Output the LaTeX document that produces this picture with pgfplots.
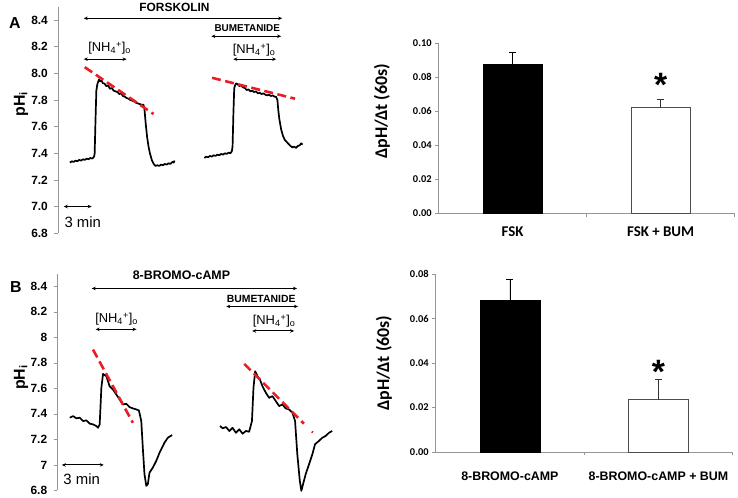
\documentclass[border=0pt]{standalone}
\usepackage{pgfplots}
\pgfplotsset{compat=1.18}
\usepackage{fontspec}
\setmainfont{Liberation Sans}
\newfontfamily\calfont{Carlito}
\usetikzlibrary{arrows.meta}
\definecolor{redline}{RGB}{232,30,36}
\definecolor{axgray}{RGB}{150,150,150}
\pgfplotsset{
  trace/.style={
    scale only axis, axis y line=left, axis x line=none,
    axis line style={axgray,-}, ytick style={axgray, line width=0.6bp},
    tick align=outside, major tick length=3.5bp,
    ymin=6.8, ymax=8.5, xmin=0, clip=false,
    /pgf/number format/assume math mode=true,
    yticklabel style={font=\fontsize{12}{12}\selectfont\bfseries, xshift=-3bp},
  },
  barax/.style={
    scale only axis, axis lines=left, axis line style={axgray,-, line width=0.7bp},
    tick style={axgray, line width=0.6bp}, tick align=outside, major tick length=3.5bp,
    ymin=0, xmin=-0.5, xmax=1.5, clip=false, scaled y ticks=false,
    xtick={0.5,1.5}, xticklabels={},
    /pgf/number format/assume math mode=true,
    yticklabel style={font=\calfont\fontsize{10.5}{10.5}\selectfont\bfseries, /pgf/number format/fixed, /pgf/number format/fixed zerofill, /pgf/number format/precision=2},
  },
  tr/.style={black, line width=1.7bp, line join=round},
  rd/.style={redline, line width=2.6bp, dash pattern=on 9bp off 4.5bp},
}
\tikzset{dar/.style={{Stealth[length=4bp,width=3.5bp]}-{Stealth[length=4bp,width=3.5bp]}, line width=0.9bp}}
\begin{document}
\begin{tikzpicture}
\path (0bp,0bp) rectangle (738bp,495bp);

% ---------------- Panel A trace ----------------
\begin{axis}[trace, at={(58bp,262.7bp)}, anchor=south west, width=272bp, height=227bp, xmax=29.14,
  ytick={6.8,7.0,7.2,7.4,7.6,7.8,8.0,8.2,8.4},
  yticklabel style={/pgf/number format/fixed, /pgf/number format/fixed zerofill, /pgf/number format/precision=1}]
\addplot[tr] coordinates {
(1.3,7.33)(1.5,7.34)(1.7,7.335)(1.9,7.345)(2.1,7.34)(2.3,7.35)(2.5,7.345)(2.7,7.355)(2.9,7.35)(3.1,7.36)(3.3,7.355)(3.5,7.365)(3.7,7.36)(3.9,7.375)
(3.96,7.40)(4.05,7.65)(4.14,7.87)(4.25,7.92)(4.43,7.955)(4.55,7.94)(4.7,7.945)(4.85,7.925)(5.0,7.925)(5.2,7.905)(5.4,7.91)(5.6,7.885)(5.8,7.89)(6.0,7.87)(6.2,7.865)(6.4,7.86)(6.6,7.845)(6.8,7.85)(7.0,7.83)(7.2,7.825)(7.4,7.815)(7.6,7.81)(7.8,7.80)(8.0,7.795)(8.2,7.79)(8.4,7.78)(8.6,7.775)(8.8,7.77)(9.0,7.765)(9.2,7.765)
(9.3,7.74)(9.45,7.62)(9.6,7.52)(9.75,7.45)(9.9,7.40)(10.1,7.35)(10.3,7.32)(10.5,7.305)(10.7,7.31)(10.9,7.305)(11.1,7.315)(11.3,7.31)(11.5,7.32)(11.7,7.315)(11.9,7.325)(12.1,7.32)(12.3,7.335)(12.45,7.33)(12.55,7.345)
};
\addplot[tr] coordinates {
(15.75,7.365)(15.95,7.375)(16.15,7.37)(16.35,7.38)(16.55,7.375)(16.75,7.385)(16.95,7.38)(17.15,7.39)(17.35,7.385)(17.55,7.395)(17.75,7.39)(17.95,7.40)(18.15,7.395)(18.35,7.405)(18.55,7.40)(18.7,7.415)
(18.78,7.45)(18.87,7.70)(18.96,7.89)(19.05,7.91)(19.15,7.925)(19.3,7.92)(19.5,7.905)(19.7,7.91)(19.9,7.895)(20.1,7.89)(20.3,7.875)(20.5,7.88)(20.7,7.865)(20.9,7.87)(21.1,7.86)(21.3,7.865)(21.5,7.85)(21.7,7.855)(21.9,7.845)(22.1,7.85)(22.3,7.84)(22.5,7.835)(22.7,7.84)(22.9,7.83)(23.1,7.835)(23.3,7.825)(23.45,7.825)
(23.6,7.80)(23.7,7.72)(23.8,7.66)(24.0,7.58)(24.2,7.53)(24.4,7.50)(24.6,7.485)(24.8,7.47)(25.0,7.455)(25.2,7.445)(25.4,7.45)(25.6,7.44)(25.8,7.455)(26.0,7.46)(26.15,7.475)(26.3,7.465)
};
\addplot[rd] coordinates {(2.89,8.047)(10.29,7.695)};
\addplot[rd] coordinates {(16.58,7.967)(25.5,7.81)};
% annotations
\draw[dar] (axis cs:2.79,8.414) -- (axis cs:24.11,8.414);
\node[font=\fontsize{12}{12}\selectfont\bfseries] at (axis cs:12.54,8.495) {FORSKOLIN};
\draw[dar] (axis cs:16.5,8.279) -- (axis cs:24.0,8.279);
\node[font=\fontsize{10}{10}\selectfont\bfseries] at (axis cs:20.36,8.339) {BUMETANIDE};
\draw[dar] (axis cs:2.79,8.107) -- (axis cs:7.39,8.107);
\node[font=\fontsize{13}{13}\selectfont] at (axis cs:5.57,8.19) {[NH\textsubscript{4}\textsuperscript{+}]\textsubscript{o}};
\draw[dar] (axis cs:18.86,8.107) -- (axis cs:23.47,8.107);
\node[font=\fontsize{13}{13}\selectfont] at (axis cs:21.1,8.175) {[NH\textsubscript{4}\textsuperscript{+}]\textsubscript{o}};
\draw[dar] (axis cs:0.64,7.0) -- (axis cs:3.64,7.0);
\node[font=\fontsize{15}{15}\selectfont] at (axis cs:2.68,6.88) {3 min};
\end{axis}

% ---------------- Panel B trace ----------------
\begin{axis}[trace, at={(57.3bp,4.6bp)}, anchor=south west, width=287.7bp, height=217.6bp, xmax=20.55,
  ytick={6.8,7,7.2,7.4,7.6,7.8,8,8.2,8.4},
  yticklabel style={/pgf/number format/fixed, /pgf/number format/precision=1}]
\addplot[tr] coordinates {
(0.91,7.370)(1.14,7.383)(1.38,7.365)(1.62,7.37)(1.86,7.344)(2.1,7.349)(2.34,7.323)(2.57,7.318)(2.81,7.305)(2.93,7.291)
(3.05,7.318)(3.17,7.604)(3.29,7.713)(3.53,7.695)(3.76,7.617)(4.0,7.591)(4.24,7.552)(4.48,7.513)(4.71,7.474)(4.96,7.479)(5.19,7.453)(5.43,7.443)(5.67,7.435)(5.86,7.427)
(6.03,7.344)(6.14,7.135)(6.26,6.927)(6.39,6.836)(6.5,6.849)(6.62,6.94)(6.86,6.979)(7.1,7.031)(7.34,7.096)(7.69,7.174)(7.93,7.213)(8.24,7.234)
};
\addplot[tr] coordinates {
(11.67,7.305)(11.86,7.287)(12.1,7.297)(12.34,7.266)(12.57,7.291)(12.81,7.252)(13.05,7.279)(13.29,7.245)(13.53,7.266)(13.76,7.26)
(13.96,7.344)(14.07,7.604)(14.19,7.734)(14.36,7.695)(14.53,7.67)(14.71,7.617)(14.96,7.565)(15.19,7.526)(15.43,7.539)(15.67,7.5)(15.91,7.461)(16.14,7.474)(16.38,7.443)(16.62,7.435)(16.86,7.409)
(17.05,7.344)(17.21,7.084)(17.39,6.875)(17.5,6.797)(17.62,6.849)(17.81,6.927)(18.05,7.005)(18.29,7.084)(18.48,7.162)(18.76,7.188)(19.0,7.213)(19.24,7.227)(19.48,7.252)(19.71,7.266)
};
\addplot[rd] coordinates {(2.57,7.904)(5.43,7.33)};
\addplot[rd] coordinates {(13.41,7.792)(17.69,7.323)};
\addplot[redline, line width=2bp] coordinates {(18.25,7.262)(18.33,7.254)};
\draw[dar] (axis cs:2.48,8.383) -- (axis cs:17.19,8.383);
\node[font=\fontsize{12.5}{12.5}\selectfont\bfseries] at (axis cs:8.91,8.49) {8-BROMO-cAMP};
\draw[dar] (axis cs:12.12,8.242) -- (axis cs:17.26,8.242);
\node[font=\fontsize{10.5}{10.5}\selectfont\bfseries] at (axis cs:14.62,8.297) {BUMETANIDE};
\draw[dar] (axis cs:2.76,8.0625) -- (axis cs:5.69,8.0625);
\node[font=\fontsize{13}{13}\selectfont] at (axis cs:4.26,8.141) {[NH\textsubscript{4}\textsuperscript{+}]\textsubscript{o}};
\draw[dar] (axis cs:13.98,8.05) -- (axis cs:16.98,8.05);
\node[font=\fontsize{13}{13}\selectfont] at (axis cs:15.55,8.125) {[NH\textsubscript{4}\textsuperscript{+}]\textsubscript{o}};
\draw[dar] (axis cs:0.34,7.0) -- (axis cs:3.34,7.0);
\node[font=\fontsize{15}{15}\selectfont] at (axis cs:1.76,6.89) {3 min};
\end{axis}

% ---------------- Panel A bars ----------------
\begin{axis}[barax, at={(440bp,282.3bp)}, anchor=south west, width=297bp, height=171bp, ymax=0.10,
  ytick={0,0.02,0.04,0.06,0.08,0.10},
  extra x ticks={0,1}, extra x tick labels={FSK, FSK + BUM},
  extra x tick style={major tick length=0pt, xticklabel style={font=\calfont\fontsize{15}{15}\selectfont\bfseries, yshift=-10bp}}]
\addplot[ybar, bar shift=0pt, bar width=59bp, fill=black, draw=black,
  error bars/.cd, y dir=plus, y explicit, error bar style={black, line width=0.7bp}, error mark options={black, line width=0.7bp, mark size=3.5bp, rotate=90}]
  coordinates {(0,0.0877) +- (0,0.0070)};
\addplot[ybar, bar shift=0pt, bar width=59bp, fill=white, draw=black!70, line width=0.7bp,
  error bars/.cd, y dir=plus, y explicit, error bar style={black!80, line width=0.7bp}, error mark options={black!80, line width=0.7bp, mark size=3.5bp, rotate=90}]
  coordinates {(1,0.0624) +- (0,0.0045)};
\node[font=\fontsize{34}{34}\selectfont\bfseries] at (axis cs:1,0.0755) {*};
\end{axis}

% ---------------- Panel B bars ----------------
\begin{axis}[barax, at={(437bp,43.3bp)}, anchor=south west, width=298bp, height=178.4bp, ymax=0.08,
  ytick={0,0.02,0.04,0.06,0.08},
  extra x ticks={0,1}, extra x tick labels={8-BROMO-cAMP, 8-BROMO-cAMP + BUM},
  extra x tick style={major tick length=0pt, xticklabel style={font=\fontsize{12.5}{12.5}\selectfont\bfseries, yshift=-17bp}}]
\addplot[ybar, bar shift=0pt, bar width=60bp, fill=black, draw=black,
  error bars/.cd, y dir=plus, y explicit, error bar style={black, line width=0.7bp}, error mark options={black, line width=0.7bp, mark size=3.5bp, rotate=90}]
  coordinates {(0,0.0683) +- (0,0.0091)};
\addplot[ybar, bar shift=0pt, bar width=60bp, fill=white, draw=black!70, line width=0.7bp,
  error bars/.cd, y dir=plus, y explicit, error bar style={black!80, line width=0.7bp}, error mark options={black!80, line width=0.7bp, mark size=3.5bp, rotate=90}]
  coordinates {(1,0.0235) +- (0,0.0090)};
\node[font=\fontsize{34}{34}\selectfont\bfseries] at (axis cs:1,0.0360) {*};
\end{axis}

% ---------------- labels ----------------
\node[font=\fontsize{16}{16}\selectfont\bfseries] at (15bp,473bp) {A};
\node[font=\fontsize{16}{16}\selectfont\bfseries] at (16bp,209bp) {B};
\node[rotate=90, font=\fontsize{16}{16}\selectfont\bfseries] at (21bp,392bp) {pH\textsubscript{i}};
\node[rotate=90, font=\fontsize{16}{16}\selectfont\bfseries] at (21bp,118bp) {pH\textsubscript{i}};
\node[rotate=90, font=\calfont\fontsize{18}{18}\selectfont\bfseries] at (383bp,385bp) {ΔpH/Δt (60s)};
\node[rotate=90, font=\calfont\fontsize{18}{18}\selectfont\bfseries] at (385bp,132.5bp) {ΔpH/Δt (60s)};
\end{tikzpicture}
\end{document}
